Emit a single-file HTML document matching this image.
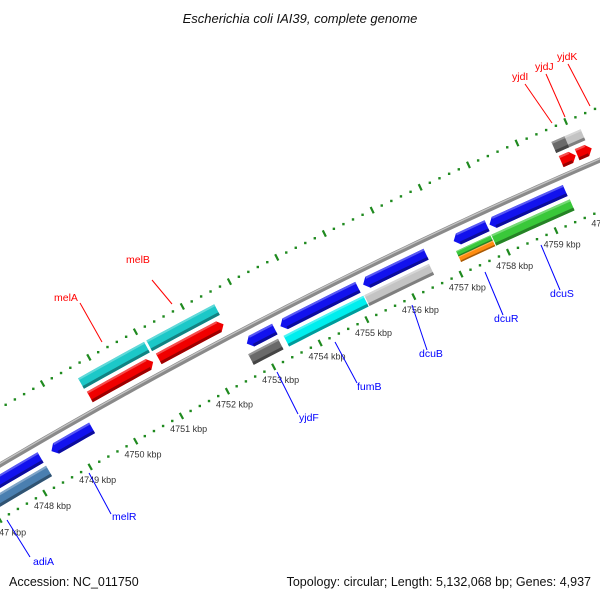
<!DOCTYPE html>
<html><head><meta charset="utf-8"><style>
body{margin:0;background:#fff}
svg{display:block;font-family:"Liberation Sans",sans-serif}
</style></head><body>
<svg id="map" width="600" height="600" viewBox="0 0 600 600">
<rect width="600" height="600" fill="#fff"/>
<text x="300" y="23" text-anchor="middle" font-size="13" font-style="italic" fill="#111">Escherichia coli IAI39, complete genome</text>
<g id="ticks"></g>
<g id="backbone"></g>
<g id="features"></g>
<g id="labels"></g>
<text x="9" y="586" font-size="12.5" fill="#111">Accession: NC_011750</text>
<text x="591" y="586" text-anchor="end" font-size="12.5" fill="#111">Topology: circular; Length: 5,132,068 bp; Genes: 4,937</text>
</svg>
<script>
// feature data (kbp)
const featStart = [4746.0,4748.51,4752.75,4753.47,4755.23,4757.14,4757.89, 4746.0,4752.68,4753.44,4755.16,4757.10,4757.10,4757.84, 4749.65,4751.14,4759.62,4759.95,4760.5, 4749.63,4751.10,4759.60,4759.87];
const featEnd   = [4748.27,4749.40,4753.35,4755.12,4756.56,4757.84,4759.47, 4748.28,4753.32,4755.14,4756.53,4757.82,4757.82,4759.48, 4751.02,4752.53,4759.92,4760.25,4761.2, 4751.05,4752.55,4759.87,4760.20];
const featTrack = [-1,-1,-1,-1,-1,-1,-1, -2,-2,-2,-2,-2,-3,-2, 1,1,1,1,1, 2,2,2,2];
const featColor = ['#1212ee','#1212ee','#1212ee','#1212ee','#1212ee','#1212ee','#1212ee',
 '#4a7fb0','#6a6a6a','#00eeee','#c4c4c4','#3ac83a','#ff8c10','#3ac83a',
 '#f00000','#f00000','#f00000','#f00000','#f00000',
 '#1cc8c8','#1cc8c8','#6a6a6a','#c4c4c4'];
const featDir = [-1,-1,-1,-1,-1,-1,-1, 0,0,0,0,0,0,0, 1,1,1,1,1, 0,0,0,0];
const tickStart = 4744, tickEnd = 4763;

const NS='http://www.w3.org/2000/svg';
const CX=2696, CY=5028, R=5300;
function pt(k,r){const a=(-120.31+(k-4748)*0.570)*Math.PI/180;return [CX+(R+r)*Math.cos(a),CY+(R+r)*Math.sin(a)];}
function mk(tag,attrs,parent){const e=document.createElementNS(NS,tag);for(const k in attrs)e.setAttribute(k,attrs[k]);parent.appendChild(e);return e;}
const trackR={'1':[8,20],'2':[24,36],'-1':[-20,-8],'-2':[-36,-24],'-3':[-30,-24]};
const trackR2={'-2a':[-36,-30]};

// ticks
const tg=document.getElementById('ticks');
[49,-47].forEach(function(rr){
  for(let i=Math.round(tickStart*5);i<=tickEnd*5;i++){
    const k=i/5;
    if(i%5===0){
      const a=pt(k,rr-3.5),b=pt(k,rr+3.5);
      const l=mk('line',{x1:a[0],y1:a[1],x2:b[0],y2:b[1],stroke:'#1f8a1f','stroke-width':2.2},tg);
      
      
      if(rr<0){
        const p=pt(k,rr-15);
        const t=mk('text',{x:p[0],y:p[1]+3,'text-anchor':'middle','font-size':'9',fill:'#333'},tg);
        t.textContent=k+' kbp';
        
        
      }
    } else {
      const p=pt(k,rr);
      const d=mk('rect',{x:p[0]-1.2,y:p[1]-1.2,width:2.4,height:2.4,fill:'#1f8a1f'},tg);
      
      
    }
  }
});

// backbone
const bg=document.getElementById('backbone');
function arcPts(k1,k2,r){const n=Math.max(2,Math.ceil((k2-k1)*4));const out=[];for(let i=0;i<=n;i++){out.push(pt(k1+(k2-k1)*i/n,r));}return out;}
const bp=arcPts(tickStart,tickEnd,0).map(p=>p.join(',')).join(' ');
const b1=mk('polyline',{points:bp,fill:'none',stroke:'#8a8a8a','stroke-width':5},bg);


const bp2=arcPts(tickStart,tickEnd,1.2).map(p=>p.join(',')).join(' ');
const b2=mk('polyline',{points:bp2,fill:'none',stroke:'#c4c4c4','stroke-width':1.3},bg);



// features
const fg=document.getElementById('features');
function shade(hex,f){const n=parseInt(hex.slice(1),16);let r=n>>16,g=(n>>8)&255,b=n&255;
  if(f<0){r*=1+f;g*=1+f;b*=1+f;}else{r+=(255-r)*f;g+=(255-g)*f;b+=(255-b)*f;}
  return 'rgb('+Math.round(r)+','+Math.round(g)+','+Math.round(b)+')';}
for(let i=0;i<featStart.length;i++){
  let tr=trackR[String(featTrack[i])];
  if(featTrack[i]===-2 && featColor[i]==='#3ac83a' && featEnd[i]<4757.9) tr=[-30,-24];
  if(featTrack[i]===-3) tr=[-36,-30];
  const r1=tr[0],r2=tr[1],rm=(r1+r2)/2;
  const s=featStart[i],e=featEnd[i],h=0.1;
  let bs=s,be=e;
  if(featDir[i]===1)be=e-h; if(featDir[i]===-1)bs=s+h;
  let poly=arcPts(bs,be,r2);
  if(featDir[i]===1)poly.push(pt(e,rm));
  poly=poly.concat(arcPts(bs,be,r1).reverse());
  if(featDir[i]===-1)poly.push(pt(s,rm));
  const g=mk('g',{},fg);
  
  
  mk('polygon',{points:poly.map(p=>p.join(',')).join(' '),fill:featColor[i]},g);
  const th=(r2-r1)>8?3:1.5;
  const dk=arcPts(bs,be,r1+th).concat(arcPts(bs,be,r1).reverse());
  mk('polygon',{points:dk.map(p=>p.join(',')).join(' '),fill:shade(featColor[i],-0.35)},g);
  const lt=arcPts(bs,be,r2).concat(arcPts(bs,be,r2-th*0.7).reverse());
  mk('polygon',{points:lt.map(p=>p.join(',')).join(' '),fill:shade(featColor[i],0.3)},g);
}

// labels
const labText=['melA','melB','yjdI','yjdJ','yjdK','adiA','melR','yjdF','fumB','dcuB','dcuR','dcuS'];
const labCol=['red','red','red','red','red','blue','blue','blue','blue','blue','blue','blue'];
const labLine=[[80,303,102,342],[152,280,172,304],[525,84,552,123],[546,74,565,117],[568,64,590,106],
 [7,520,30,557],[89,473,111,514],[277,372,298,414],[335,342,357,383],[412,305,427,350],[485,272,503,315],[541,245,560,290]];
const labPos=[[54,301],[126,263],[512,80],[535,70],[557,60],[33,565],[112,520],[299,421],[357,390],[419,357],[494,322],[550,297]];
const lg=document.getElementById('labels');
for(let i=0;i<labText.length;i++){
  const c=labCol[i]==='red'?'#f00':'#00f';
  const L=labLine[i];
  const l=mk('line',{x1:L[0],y1:L[1],x2:L[2],y2:L[3],stroke:c,'stroke-width':1},lg);
  
  
  const t=mk('text',{x:labPos[i][0],y:labPos[i][1],'font-size':'10.5',fill:c},lg);
  t.textContent=labText[i];
  
  
}
</script>
</body></html>
